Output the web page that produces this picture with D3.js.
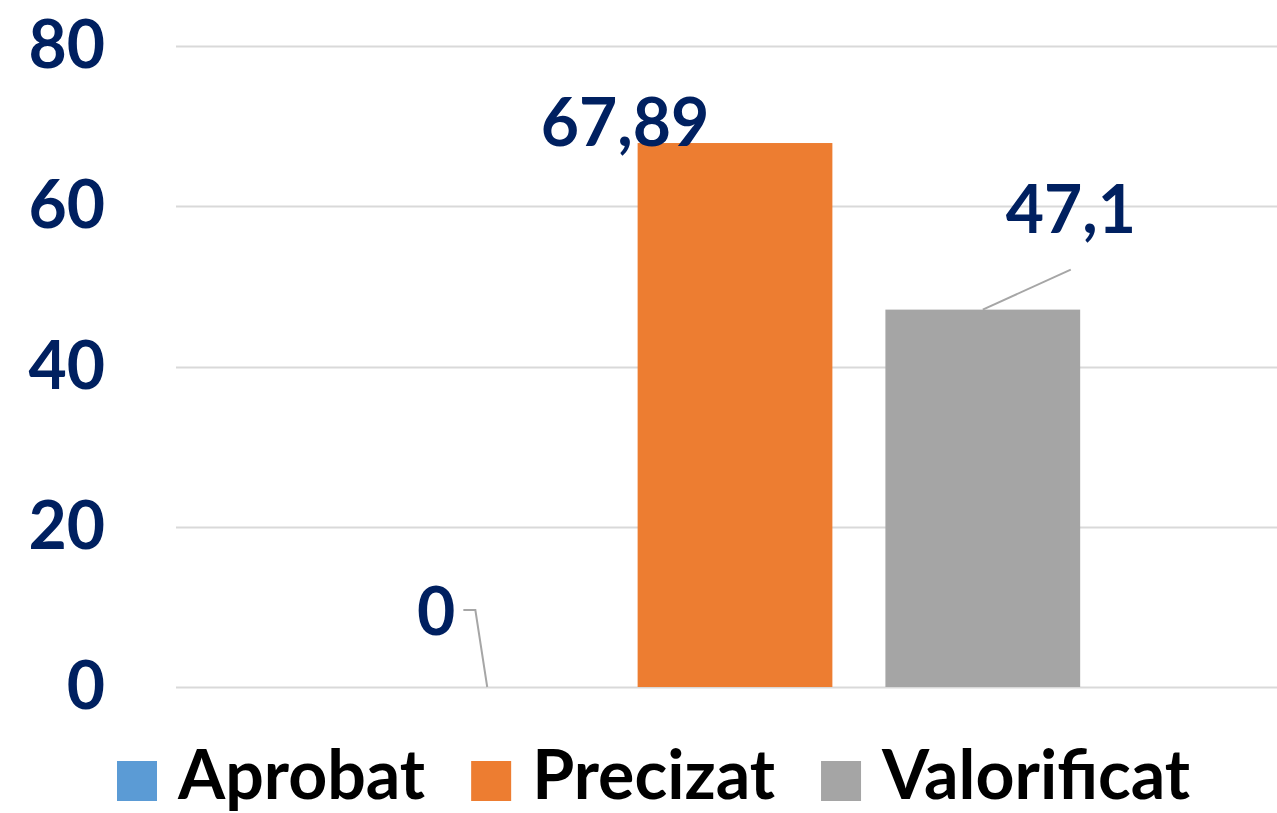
<!DOCTYPE html>
<html>
<head>
<meta charset="utf-8">
<script src="https://cdn.jsdelivr.net/npm/d3@7"></script>
<style>
  body { margin: 0; background: #fff; }
  text { font-family: Lato, "Open Sans", sans-serif; font-weight: bold; }
</style>
</head>
<body>
<div id="chart"></div>
<script>
// series names, values and colours
var seriesNames = ["Aprobat", "Precizat", "Valorificat"];
var seriesValues = [0, 67.89, 47.1];
var seriesLabels = ["0", "67,89", "47,1"];
var seriesColors = ["#5B9BD5", "#ED7D31", "#A5A5A5"];
var yTicks = [0, 20, 40, 60, 80];

// label offsets from bar top centre (as in the source)
var labelOffsets = [[-51, -52], [-110, 3], [88, -77]];

var W = 1277, H = 813;
var m = {left: 176, right: -17, top: 46, bottom: 126};

var svg = d3.select("#chart").append("svg")
  .attr("width", W)
  .attr("height", H);

var x = d3.scaleBand()
  .domain(seriesNames)
  .range([m.left, W - m.right])
  .paddingInner(0.214)
  .paddingOuter(0.863);

var y = d3.scaleLinear()
  .domain([0, 80])
  .range([H - m.bottom, m.top]);

// gridlines
svg.append("g")
  .selectAll("line")
  .data(yTicks)
  .enter().append("line")
  .attr("x1", m.left)
  .attr("x2", W)
  .attr("y1", function(d) { return Math.round(y(d)) + 0.5; })
  .attr("y2", function(d) { return Math.round(y(d)) + 0.5; })
  .attr("stroke", "#D9D9D9")
  .attr("stroke-width", 2);

// y labels
svg.append("g")
  .selectAll("text")
  .data(yTicks)
  .enter().append("text")
  .attr("x", 105)
  .attr("y", function(d) { return y(d) + 22; })
  .attr("text-anchor", "end")
  .attr("font-size", 66)
  .attr("fill", "#002060")
  .text(function(d) { return d; });

// bars
svg.append("g")
  .selectAll("rect")
  .data(seriesValues)
  .enter().append("rect")
  .attr("x", function(d, i) { return x(seriesNames[i]); })
  .attr("width", x.bandwidth())
  .attr("y", function(d) { return y(d); })
  .attr("height", function(d) { return y(0) - y(d); })
  .attr("fill", function(d, i) { return seriesColors[i]; });

// data labels + leader lines
var labels = svg.append("g");
seriesValues.forEach(function(v, i) {
  var cx = x(seriesNames[i]) + x.bandwidth() / 2;
  var top = y(v);
  var lx = cx + labelOffsets[i][0];
  var ly = top + labelOffsets[i][1];
  var t = labels.append("text")
    .attr("x", lx)
    .attr("y", ly)
    .attr("text-anchor", "middle")
    .attr("font-size", 66)
    .attr("fill", "#002060")
    .text(seriesLabels[i]);
  var bb = t.node().getBBox();
  if (i === 0) {
    // elbow leader from right side of label to bar top
    labels.append("polyline")
      .attr("points", [[bb.x + bb.width + 8, ly - 25], [bb.x + bb.width + 20, ly - 25], [cx, top]].join(" "))
      .attr("fill", "none")
      .attr("stroke", "#A6A6A6")
      .attr("stroke-width", 2);
  } else if (i === 2) {
    labels.append("line")
      .attr("x1", cx).attr("y1", top)
      .attr("x2", lx).attr("y2", ly + 37)
      .attr("stroke", "#A6A6A6")
      .attr("stroke-width", 2);
  }
});

// legend
var legend = svg.append("g");
var lxPos = 117;
seriesNames.forEach(function(name, i) {
  legend.append("rect")
    .attr("x", lxPos)
    .attr("y", 761)
    .attr("width", 40)
    .attr("height", 40)
    .attr("fill", seriesColors[i]);
  var t = legend.append("text")
    .attr("x", lxPos + 61)
    .attr("y", 799)
    .attr("font-size", 68)
    .attr("fill", "#000")
    .text(name);
  lxPos = lxPos + 61 + t.node().getComputedTextLength() + 46;
});
</script>
</body>
</html>
